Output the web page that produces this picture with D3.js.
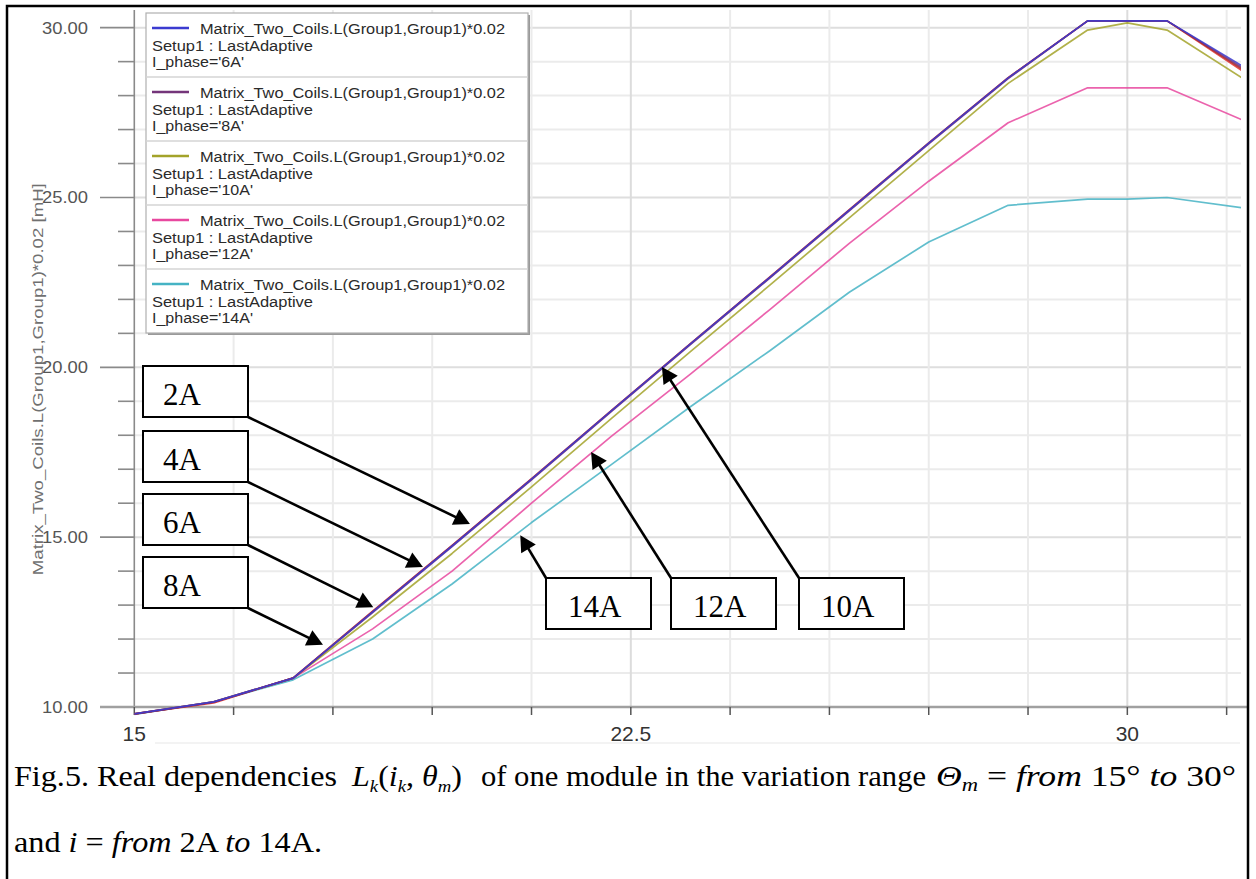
<!DOCTYPE html>
<html><head><meta charset="utf-8">
<script src="https://cdn.jsdelivr.net/npm/d3@7"></script>
<style>
body{margin:0;background:#fff} svg{display:block}
.serif{font-family:"Liberation Serif","Times New Roman",Times,serif}
.sans{font-family:"Liberation Sans",Arial,Helvetica,sans-serif}
</style>
</head><body>
<svg id="c" width="1256" height="879"></svg>
<script>
// ---- data ----
const angles = [15, 16.2, 17.4, 18.6, 19.8, 21, 22.2, 23.4, 24.6, 25.8, 27, 28.2, 29.4, 30, 30.6, 31.8];
const L_2A  = [9.80, 10.12, 10.86, 12.82, 14.76, 16.72, 18.72, 20.70, 22.66, 24.64, 26.61, 28.53, 30.20, 30.20, 30.20, 28.65];
const L_4A  = [9.79, 10.14, 10.85, 12.81, 14.75, 16.71, 18.71, 20.69, 22.65, 24.63, 26.60, 28.52, 30.20, 30.20, 30.20, 28.70];
const L_6A  = [9.80, 10.15, 10.85, 12.80, 14.74, 16.71, 18.71, 20.69, 22.65, 24.63, 26.60, 28.52, 30.20, 30.20, 30.20, 28.80];
const L_8A  = [9.80, 10.15, 10.85, 12.78, 14.72, 16.69, 18.69, 20.67, 22.63, 24.61, 26.58, 28.50, 30.20, 30.20, 30.20, 28.75];
const L_10A = [9.80, 10.15, 10.85, 12.65, 14.52, 16.48, 18.48, 20.46, 22.42, 24.40, 26.38, 28.36, 29.93, 30.14, 29.93, 28.44];
const L_12A = [9.80, 10.15, 10.85, 12.30, 14.00, 16.00, 17.96, 19.80, 21.70, 23.65, 25.48, 27.20, 28.23, 28.23, 28.23, 27.23];
const L_14A = [9.78, 10.15, 10.80, 12.00, 13.62, 15.43, 17.13, 18.84, 20.49, 22.21, 23.69, 24.77, 24.95, 24.95, 25.00, 24.68];

const seriesNames  = ["14A", "12A", "10A", "2A", "4A", "8A", "6A"];   // drawing order
const seriesValues = [L_14A, L_12A, L_10A, L_2A, L_4A, L_8A, L_6A];
const seriesColors = ["#45b3c4", "#e8489f", "#a3a32a", "#e0302a", "#a3282e", "#74357a", "#3b3bd0"];

const legendNames  = ["6A", "8A", "10A", "12A", "14A"];
const legendTitle  = "Matrix_Two_Coils.L(Group1,Group1)*0.02";
const legendSetup  = "Setup1 : LastAdaptive";
const yTickLabels  = [10, 15, 20, 25, 30];
const xTickLabels  = [15, 22.5, 30];
const yTitle = "Matrix_Two_Coils.L(Group1,Group1)*0.02 [mH]";

// annotations: label, tip in data units (deg, mH)
const annLabels = ["2A", "4A", "6A", "8A", "14A", "12A", "10A"];
const annTipDeg = [20.07, 19.36, 18.61, 17.85, 20.83, 21.90, 22.97];
const annTipVal = [15.39, 14.12, 12.94, 11.83, 15.06, 17.51, 20.01];

// ---- layout ----
const svg = d3.select("#c");
const x = d3.scaleLinear().domain([15, 31.717]).range([134.3, 1241]);
const y = d3.scaleLinear().domain([10, 30.52]).range([707, 10]);
const x0 = x.range()[0], x1 = x.range()[1], yb = y.range()[0], yt = y.range()[1];

// grid
const g = svg.append("g");
d3.range(11, 31).forEach(v => {
  g.append("line").attr("x1", x0).attr("x2", x1).attr("y1", y(v)).attr("y2", y(v))
    .attr("stroke", v % 5 === 0 ? "#dedede" : "#ebebeb").attr("stroke-width", 2);
});
d3.range(16.5, 31.6, 1.5).forEach(v => {
  g.append("line").attr("x1", x(v)).attr("x2", x(v)).attr("y1", yt).attr("y2", yb)
    .attr("stroke", (Math.abs(v - 22.5) < 0.01 || Math.abs(v - 30) < 0.01) ? "#dcdcdc" : "#ebebeb").attr("stroke-width", 2);
});

// y axis
g.append("line").attr("x1", x0).attr("x2", x0).attr("y1", yt).attr("y2", yb).attr("stroke", "#8a8a8a").attr("stroke-width", 1.6);
d3.range(11, 31).forEach(v => {
  const major = v % 5 === 0;
  g.append("line").attr("x1", major ? 100 : 118).attr("x2", x0).attr("y1", y(v)).attr("y2", y(v))
    .attr("stroke", "#8a8a8a").attr("stroke-width", 1.6);
});
yTickLabels.forEach(v => {
  g.append("text").attr("class", "sans").attr("x", 88).attr("y", y(v) + 6).attr("text-anchor", "end")
    .attr("font-size", 16).attr("textLength", 46).attr("lengthAdjust", "spacingAndGlyphs")
    .attr("fill", "#555").text(d3.format(".2f")(v));
});
// x axis
g.append("line").attr("x1", 100).attr("x2", 1248).attr("y1", yb).attr("y2", yb).attr("stroke", "#a0a0a0").attr("stroke-width", 2.6);
d3.range(15, 31.6, 1.5).forEach(v => {
  g.append("line").attr("x1", x(v)).attr("x2", x(v)).attr("y1", yb).attr("y2", yb + 8)
    .attr("stroke", "#555").attr("stroke-width", 1.5);
});
xTickLabels.forEach(v => {
  g.append("text").attr("class", "sans").attr("x", x(v)).attr("y", 741).attr("text-anchor", "middle")
    .attr("font-size", 21).attr("fill", "#333").text(v);
});
g.append("line").attr("x1", 155).attr("x2", 1240).attr("y1", 743).attr("y2", 743).attr("stroke", "#efefef").attr("stroke-width", 1.5);

// y title
svg.append("text").attr("class", "sans").attr("transform", `translate(43,${(y(10.4) + y(28.9)) / 2}) rotate(-90)`)
  .attr("text-anchor", "middle").attr("font-size", 15).attr("textLength", 392).attr("lengthAdjust", "spacingAndGlyphs")
  .attr("fill", "#707070").text(yTitle);

// curves
svg.append("clipPath").attr("id", "clip").append("rect")
  .attr("x", x0).attr("y", 0).attr("width", x1 - x0).attr("height", yb + 15);
const line = d3.line().x((d, i) => x(angles[i])).y(d => y(d));
const cg = svg.append("g").attr("clip-path", "url(#clip)");
seriesValues.forEach((vals, k) => {
  cg.append("path").datum(vals).attr("d", line).attr("fill", "none")
    .attr("stroke", seriesColors[k]).attr("stroke-width", 1.7).attr("stroke-opacity", 0.85)
    .attr("stroke-linejoin", "round");
});

// legend
const lg = svg.append("g").attr("transform", "translate(146,13)");
const LW = 382, RH = 64;
lg.append("rect").attr("x", 2).attr("y", 2).attr("width", LW).attr("height", RH * legendNames.length).attr("fill", "#9a9a9a");
lg.append("rect").attr("width", LW).attr("height", RH * legendNames.length).attr("fill", "#fff").attr("stroke", "#b0b0b0").attr("stroke-width", 1.2);
legendNames.forEach((nm, i) => {
  const ry = i * RH;
  const col = seriesColors[seriesNames.indexOf(nm)];
  if (i > 0) lg.append("line").attr("x1", 0).attr("x2", LW).attr("y1", ry).attr("y2", ry).attr("stroke", "#d4d4d4").attr("stroke-width", 1.5);
  lg.append("line").attr("x1", 6).attr("x2", 43).attr("y1", ry + 15).attr("y2", ry + 15).attr("stroke", col).attr("stroke-width", 2.6);
  const t = (tx, ty, s, len) => {
    lg.append("text").attr("class", "sans").attr("x", tx).attr("y", ty)
      .attr("font-size", 15.5).attr("fill", "#2a2a2a").text(s)
      .attr("textLength", len).attr("lengthAdjust", "spacingAndGlyphs");
  };
  t(54, ry + 21, legendTitle, 305);
  t(6, ry + 38, legendSetup, 161);
  t(6, ry + 54, "I_phase='" + nm + "'", nm.length > 2 ? 101 : 92);
});

// annotations
const boxW = 105, boxH = 51;
const boxX = [143, 143, 143, 143, 546, 671, 799];
const boxY = [366, 431, 494, 557, 578, 578, 578];
const ag = svg.append("g");
annLabels.forEach((lab, i) => {
  const left = i < 4;
  const bx = boxX[i], by = boxY[i];
  ag.append("rect").attr("x", bx).attr("y", by).attr("width", boxW).attr("height", boxH)
    .attr("fill", "#fff").attr("stroke", "#000").attr("stroke-width", 2);
  ag.append("text").attr("class", "serif").attr("x", bx + (left ? 20 : 22)).attr("y", by + 39)
    .attr("font-size", 31).attr("fill", "#000").text(lab);
  const sx = left ? bx + boxW : bx, sy = left ? by + boxH : by;
  const tx = x(annTipDeg[i]), ty = y(annTipVal[i]);
  const dx = tx - sx, dy = ty - sy, len = Math.hypot(dx, dy);
  const ux = dx / len, uy = dy / len, hl = 16, hw = 8.5;
  const bxp = tx - ux * hl, byp = ty - uy * hl;
  ag.append("line").attr("x1", sx).attr("y1", sy).attr("x2", bxp + ux * 2).attr("y2", byp + uy * 2)
    .attr("stroke", "#000").attr("stroke-width", 2.6);
  ag.append("path").attr("d", `M${tx},${ty}L${bxp - uy * hw},${byp + ux * hw}L${bxp + uy * hw},${byp - ux * hw}Z`).attr("fill", "#000");
});

// caption
const cap = svg.append("g").attr("class", "serif").attr("fill", "#000");
cap.append("text").attr("x", 14).attr("y", 786).attr("font-size", 30)
  .attr("textLength", 323).attr("lengthAdjust", "spacingAndGlyphs").text("Fig.5. Real dependencies");
const f = cap.append("text").attr("x", 352).attr("y", 786).attr("font-size", 29)
  .attr("textLength", 110).attr("lengthAdjust", "spacingAndGlyphs");
f.append("tspan").attr("font-style", "italic").text("L");
f.append("tspan").attr("font-style", "italic").attr("font-size", 17).attr("dy", 6).text("k");
f.append("tspan").attr("dy", -6).text("(");
f.append("tspan").attr("font-style", "italic").text("i");
f.append("tspan").attr("font-style", "italic").attr("font-size", 17).attr("dy", 6).text("k");
f.append("tspan").attr("dy", -6).text(", ");
f.append("tspan").attr("font-style", "italic").text("θ");
f.append("tspan").attr("font-style", "italic").attr("font-size", 17).attr("dy", 6).text("m");
f.append("tspan").attr("dy", -6).text(")");
cap.append("text").attr("x", 481).attr("y", 786).attr("font-size", 30)
  .attr("textLength", 445).attr("lengthAdjust", "spacingAndGlyphs").text("of one module in the variation range");
const d = cap.append("text").attr("x", 936).attr("y", 786).attr("font-size", 30)
  .attr("textLength", 300).attr("lengthAdjust", "spacingAndGlyphs");
d.append("tspan").attr("font-style", "italic").text("Θ");
d.append("tspan").attr("font-style", "italic").attr("font-size", 19).attr("dy", 5).text("m");
d.append("tspan").attr("dy", -5).text(" = ");
d.append("tspan").attr("font-style", "italic").text("from");
d.append("tspan").text(" 15° ");
d.append("tspan").attr("font-style", "italic").text("to");
d.append("tspan").text(" 30°");
const l2 = cap.append("text").attr("x", 14).attr("y", 852).attr("font-size", 30)
  .attr("textLength", 308).attr("lengthAdjust", "spacingAndGlyphs");
l2.append("tspan").text("and ");
l2.append("tspan").attr("font-style", "italic").text("i");
l2.append("tspan").text(" = ");
l2.append("tspan").attr("font-style", "italic").text("from");
l2.append("tspan").text(" 2A ");
l2.append("tspan").attr("font-style", "italic").text("to");
l2.append("tspan").text(" 14A.");

// outer frame (left, top, right)
svg.append("path").attr("d", "M7,879V6H1248V879").attr("fill", "none").attr("stroke", "#000").attr("stroke-width", 2.5);
</script>
</body></html>
